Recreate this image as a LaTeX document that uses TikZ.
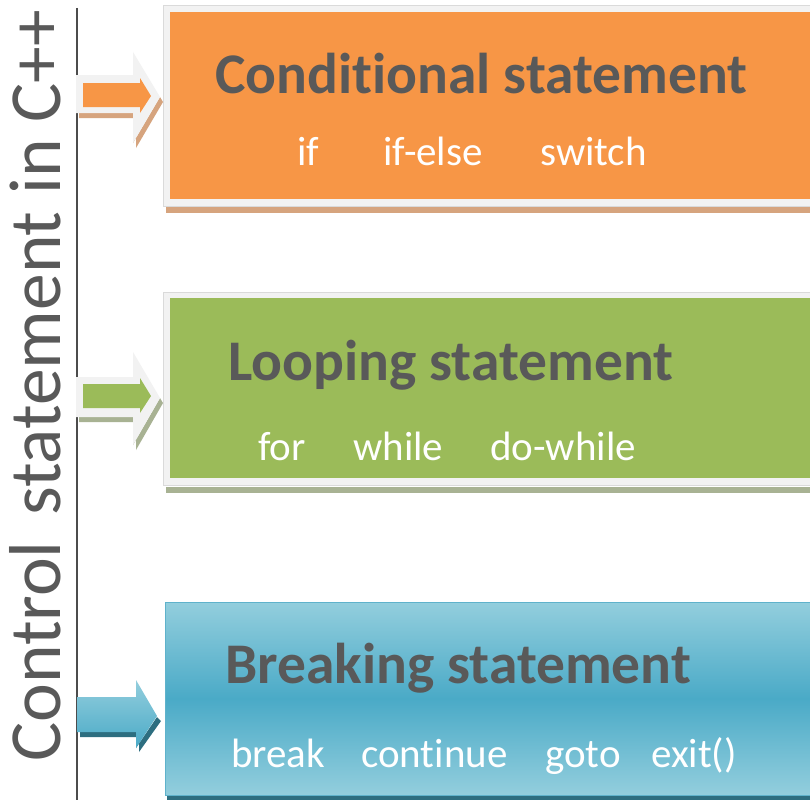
\documentclass[tikz,border=0pt]{standalone}
\usepackage{fontspec}
\setmainfont{Carlito}[Ligatures=NoCommon]
\definecolor{headgray}{HTML}{595959}
\definecolor{framegray}{HTML}{F2F2F2}
\definecolor{framerim}{HTML}{DADADA}
\definecolor{condorange}{HTML}{F79646}
\definecolor{condshadow}{HTML}{D6A47E}
\definecolor{loopgreen}{HTML}{9BBB59}
\definecolor{loopshadow}{HTML}{A8B293}
\definecolor{breaklight}{HTML}{93CEDD}
\definecolor{breakmid}{HTML}{4AAAC7}
\definecolor{breakrim}{HTML}{5FB2CB}
\definecolor{breakshadow}{HTML}{2D6E80}
\tikzset{
  heading/.style={anchor=base west, inner sep=0pt, text=headgray, font=\fontsize{57.5}{62}\selectfont\bfseries},
  item/.style={anchor=base west, inner sep=0pt, text=white, font=\fontsize{41}{46}\selectfont},
  frame/.style={fill=framegray, draw=framerim, line width=0.6pt},
}
\begin{document}
\begin{tikzpicture}[x=1pt,y=-1pt]
\useasboundingbox (0,0) rectangle (810,800);
\fill[white] (0,0) rectangle (810,800);

% vertical axis and its title
\draw[line width=1.6pt, color=black!70] (77,8) -- (77,800);
\node[rotate=90, anchor=base west, inner sep=0pt, text=headgray,
      font=\fontsize{73.5}{78}\selectfont] (title) at (60,762) {Control\hspace{0.12em} statement in C++};

% ---- conditional group ----
\fill[condshadow] (166,207) rectangle (810,213);
\draw[frame] (163,5) rectangle (812,206);
\fill[condorange] (170,12) rectangle (810,199);
\node[heading] (condhead) at (215,93) {Conditional statement};
\node[item] (cif) at (297,165) {if};
\node[item] (cifelse) at (383,165) {if-else};
\node[item] (cswitch) at (540,165) {switch};
% block arrow with light frame
\fill[condshadow] (79,118) -- (136,118) -- (136,148) -- (163,102) -- (160,97) -- (133,143) -- (133,113) -- (79,113) -- cycle;
\fill[framegray] (76,75) -- (133,75) -- (133,52) -- (160,97) -- (133,143) -- (133,113) -- (76,113) -- cycle;
\fill[condorange] (83,83) -- (140,83) -- (140,78) -- (151,96) -- (140,113) -- (140,107) -- (83,107) -- cycle;

% ---- looping group ----
\fill[loopshadow] (166,487) rectangle (810,493);
\draw[frame] (163,292) rectangle (812,485);
\fill[loopgreen] (170,298) rectangle (810,478);
\node[heading] (loophead) at (228,380) {Looping statement};
\node[item] (lfor) at (258,460) {for};
\node[item] (lwhile) at (353,460) {while};
\node[item] (ldowhile) at (490,460) {do-while};
\fill[loopshadow] (79,422) -- (136,422) -- (136,450) -- (163,403) -- (160,398) -- (133,445) -- (133,417) -- (79,417) -- cycle;
\fill[framegray] (76,377) -- (133,377) -- (133,352) -- (160,398) -- (133,445) -- (133,417) -- (76,417) -- cycle;
\fill[loopgreen] (83,384) -- (140,384) -- (140,378) -- (151,396) -- (140,413) -- (140,408) -- (83,408) -- cycle;

% ---- breaking group ----
\fill[breakshadow] (167,794) rectangle (810,800);
\shade[top color=breaklight, bottom color=breaklight, middle color=breakmid] (165,602) rectangle (810,795);
\draw[breakrim, line width=1pt] (165,602) rectangle (812,795);
\node[heading] (breakhead) at (225,683) {Breaking statement};
\node[item] (bbreak) at (231,767) {break};
\node[item] (bcontinue) at (361,767) {continue};
\node[item] (bgoto) at (545,767) {goto};
\node[item] (bexit) at (651,767) {exit()};
\fill[breakshadow] (80,737) -- (139,737) -- (139,752) -- (161,721) -- (157,717) -- (136,748) -- (136,732) -- (80,732) -- cycle;
\shade[top color=breaklight, bottom color=breakmid] (77,697) -- (136,697) -- (136,680) -- (157,716) -- (136,748) -- (136,732) -- (77,732) -- cycle;
\end{tikzpicture}
\end{document}
